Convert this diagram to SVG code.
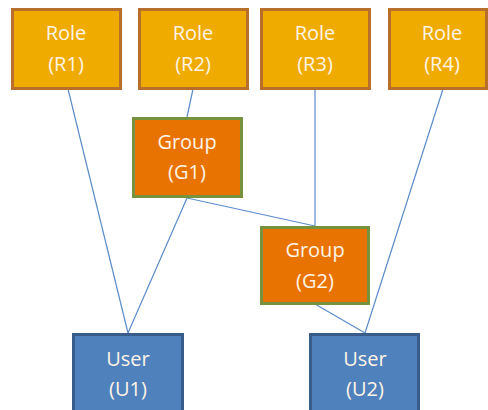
<svg xmlns="http://www.w3.org/2000/svg" width="488" height="410" viewBox="0 0 488 410">
<style>
.role{fill:#F0AB00;stroke:#B96F2C;stroke-width:3}
.group{fill:#E97300;stroke:#76923C;stroke-width:3}
.user{fill:#4F81BD;stroke:#385D8A;stroke-width:3}
text{font-family:"Open Sans","Liberation Sans",sans-serif;font-size:20px;fill:#FFF4E6;text-anchor:middle}
.conn line{stroke:#5B8CC8;stroke-width:1.2}
</style>
<rect width="488" height="410" fill="#FFFFFF"/>
<g class="conn">
<line x1="68" y1="89" x2="128" y2="333"/>
<line x1="193" y1="89" x2="187" y2="117"/>
<line x1="315" y1="89" x2="315" y2="226"/>
<line x1="443" y1="89" x2="365" y2="333"/>
<line x1="187" y1="198" x2="128" y2="333"/>
<line x1="187" y1="198" x2="315" y2="226"/>
<line x1="315" y1="304" x2="365" y2="333"/>
</g>
<g id="R1"><rect class="role" x="12.5" y="9.5" width="108" height="79"/><text x="66" y="40">Role</text><text x="66" y="71">(R1)</text></g>
<g id="R2"><rect class="role" x="139.5" y="9.5" width="108" height="79"/><text x="193" y="40">Role</text><text x="193" y="71">(R2)</text></g>
<g id="R3"><rect class="role" x="261.5" y="9.5" width="108" height="79"/><text x="315" y="40">Role</text><text x="315" y="71">(R3)</text></g>
<g id="R4"><rect class="role" x="389.5" y="9.5" width="97" height="79"/><text x="442" y="40">Role</text><text x="442" y="71">(R4)</text></g>
<g id="G1"><rect class="group" x="133.5" y="118.5" width="108" height="78"/><text x="187" y="149">Group</text><text x="187" y="179">(G1)</text></g>
<g id="G2"><rect class="group" x="261.5" y="227.5" width="107" height="76"/><text x="315" y="257">Group</text><text x="315" y="288">(G2)</text></g>
<g id="U1"><rect class="user" x="73.5" y="334.5" width="109" height="80"/><text x="128" y="366">User</text><text x="128" y="396">(U1)</text></g>
<g id="U2"><rect class="user" x="310.5" y="334.5" width="108" height="80"/><text x="365" y="366">User</text><text x="365" y="396">(U2)</text></g>
</svg>
